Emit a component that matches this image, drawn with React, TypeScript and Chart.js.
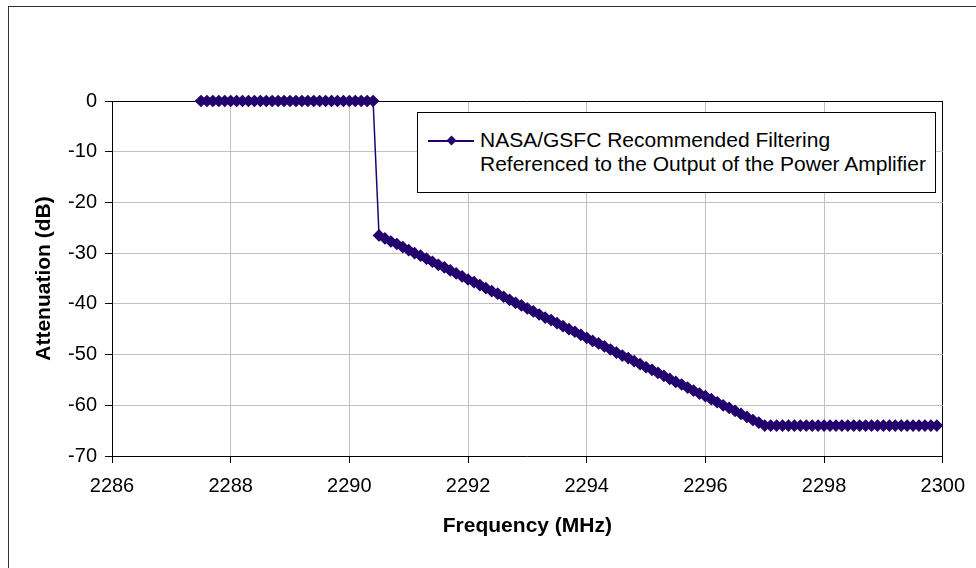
import React, { useEffect, useRef } from "react";
import { Chart, registerables } from "chart.js";

Chart.register(...registerables);

const frequencyMHz = [
  2287.5, 2287.6, 2287.7, 2287.8, 2287.9,
  2288.0, 2288.1, 2288.2, 2288.3, 2288.4, 2288.5, 2288.6, 2288.7, 2288.8, 2288.9,
  2289.0, 2289.1, 2289.2, 2289.3, 2289.4, 2289.5, 2289.6, 2289.7, 2289.8, 2289.9,
  2290.0, 2290.1, 2290.2, 2290.3, 2290.4,
  2290.5, 2290.6, 2290.7, 2290.8, 2290.9,
  2291.0, 2291.1, 2291.2, 2291.3, 2291.4, 2291.5, 2291.6, 2291.7, 2291.8, 2291.9,
  2292.0, 2292.1, 2292.2, 2292.3, 2292.4, 2292.5, 2292.6, 2292.7, 2292.8, 2292.9,
  2293.0, 2293.1, 2293.2, 2293.3, 2293.4, 2293.5, 2293.6, 2293.7, 2293.8, 2293.9,
  2294.0, 2294.1, 2294.2, 2294.3, 2294.4, 2294.5, 2294.6, 2294.7, 2294.8, 2294.9,
  2295.0, 2295.1, 2295.2, 2295.3, 2295.4, 2295.5, 2295.6, 2295.7, 2295.8, 2295.9,
  2296.0, 2296.1, 2296.2, 2296.3, 2296.4, 2296.5, 2296.6, 2296.7, 2296.8, 2296.9,
  2297.0, 2297.1, 2297.2, 2297.3, 2297.4, 2297.5, 2297.6, 2297.7, 2297.8, 2297.9,
  2298.0, 2298.1, 2298.2, 2298.3, 2298.4, 2298.5, 2298.6, 2298.7, 2298.8, 2298.9,
  2299.0, 2299.1, 2299.2, 2299.3, 2299.4, 2299.5, 2299.6, 2299.7, 2299.8, 2299.9,
];

const attenuationDb = [
  0, 0, 0, 0, 0,
  0, 0, 0, 0, 0, 0, 0, 0, 0, 0,
  0, 0, 0, 0, 0, 0, 0, 0, 0, 0,
  0, 0, 0, 0, 0,
  -26.5, -27.1, -27.7, -28.2, -28.8,
  -29.4, -30.0, -30.5, -31.1, -31.7, -32.3, -32.8, -33.4, -34.0, -34.6,
  -35.2, -35.7, -36.3, -36.9, -37.5, -38.0, -38.6, -39.2, -39.8, -40.3,
  -40.9, -41.5, -42.1, -42.7, -43.2, -43.8, -44.4, -45.0, -45.5, -46.1,
  -46.7, -47.3, -47.8, -48.4, -49.0, -49.6, -50.2, -50.7, -51.3, -51.9,
  -52.5, -53.0, -53.6, -54.2, -54.8, -55.4, -55.9, -56.5, -57.1, -57.7,
  -58.2, -58.8, -59.4, -60.0, -60.5, -61.1, -61.7, -62.3, -62.9, -63.4,
  -64.0, -64, -64, -64, -64, -64, -64, -64, -64, -64,
  -64, -64, -64, -64, -64, -64, -64, -64, -64, -64,
  -64, -64, -64, -64, -64, -64, -64, -64, -64, -64,
];

const xTickValues = [2286, 2288, 2290, 2292, 2294, 2296, 2298, 2300];
const yTickValues = [0, -10, -20, -30, -40, -50, -60, -70];
const seriesLabelLines = [
  "NASA/GSFC Recommended Filtering",
  "Referenced to the Output of the Power Amplifier",
];
const xAxisTitle = "Frequency (MHz)";
const yAxisTitle = "Attenuation (dB)";

const SERIES_COLOR = "#22006e";
const GRID_COLOR = "#c0c0c0";
const FONT = "'Liberation Sans', Arial, sans-serif";

export default function App() {
  const canvasRef = useRef<HTMLCanvasElement | null>(null);

  useEffect(() => {
    if (!canvasRef.current) return;
    const points = frequencyMHz.map((f, i) => ({ x: f, y: attenuationDb[i] }));
    const xMin = xTickValues[0];
    const xMax = xTickValues[xTickValues.length - 1];
    const yMin = yTickValues[yTickValues.length - 1];
    const yMax = yTickValues[0];

    const chart = new Chart(canvasRef.current, {
      type: "line",
      data: {
        datasets: [
          {
            label: seriesLabelLines.join(" "),
            data: points,
            clip: false,
            borderColor: SERIES_COLOR,
            backgroundColor: SERIES_COLOR,
            borderWidth: 1.5,
            tension: 0,
            pointStyle: "rectRot",
            pointRadius: 5.5,
            pointBorderWidth: 1.2,
            pointBackgroundColor: SERIES_COLOR,
            pointBorderColor: SERIES_COLOR,
          },
        ],
      },
      options: {
        animation: false,
        responsive: false,
        devicePixelRatio: 1,
        layout: { padding: { left: 0, top: 101, right: 30, bottom: 0 } },
        plugins: {
          legend: { display: false },
          tooltip: { enabled: false },
        },
        scales: {
          x: {
            type: "linear",
            min: xMin,
            max: xMax,
            afterBuildTicks: (s: any) => {
              s.ticks = xTickValues.map((v) => ({ value: v }));
            },
            afterFit: (s: any) => {
              s.height = 112;
            },
            grid: {
              color: (c: any) => (c.tick && c.tick.value === xMax ? "#000" : GRID_COLOR),
              lineWidth: 1,
              tickLength: 7,
              tickColor: "#000",
            },
            border: { color: "#000", width: 1 },
            ticks: {
              color: "#000",
              font: { family: FONT, size: 20 },
              padding: 11,
              maxRotation: 0,
              autoSkip: false,
              callback: (v: any) => String(v),
            },
            title: {
              display: true,
              text: xAxisTitle,
              color: "#000",
              font: { family: FONT, size: 21, weight: "bold" },
              padding: { top: 0, bottom: 29 },
            },
          },
          y: {
            type: "linear",
            min: yMin,
            max: yMax,
            afterBuildTicks: (s: any) => {
              s.ticks = yTickValues.map((v) => ({ value: v }));
            },
            afterFit: (s: any) => {
              s.width = 112;
            },
            grid: {
              color: (c: any) => (c.tick && c.tick.value === yMax ? "#000" : GRID_COLOR),
              lineWidth: 1,
              tickLength: 7,
              tickColor: "#000",
            },
            border: { color: "#000", width: 1 },
            ticks: {
              color: "#000",
              font: { family: FONT, size: 20 },
              padding: 8,
              autoSkip: false,
              callback: (v: any) => String(v),
            },
            title: {
              display: true,
              text: yAxisTitle,
              color: "#000",
              font: { family: FONT, size: 21, weight: "bold" },
              padding: { top: 32, bottom: 0 },
            },
          },
        },
      },
    } as any);

    return () => chart.destroy();
  }, []);

  return (
    <div style={{ position: "absolute", left: 0, top: 0, width: 976, height: 568, overflow: "hidden", background: "#fff" }}>
      <canvas
        ref={canvasRef}
        width={976}
        height={568}
        style={{ position: "absolute", left: 0, top: 0, width: 976, height: 568 }}
      />
      <div
        style={{
          position: "absolute",
          left: 8,
          top: 6,
          width: 968,
          height: 562,
          borderLeft: "1px solid #333",
          borderTop: "1px solid #333",
          pointerEvents: "none",
        }}
      />
      <div
        style={{
          position: "absolute",
          left: 417,
          top: 112,
          width: 519,
          height: 81,
          boxSizing: "border-box",
          border: "1px solid #000",
          background: "#fff",
          fontFamily: FONT,
          fontSize: 21,
          color: "#000",
        }}
      >
        <div style={{ position: "absolute", left: 10, top: 27, width: 46, height: 1.5, background: SERIES_COLOR }} />
        <div
          style={{
            position: "absolute",
            left: 30,
            top: 24,
            width: 7,
            height: 7,
            background: SERIES_COLOR,
            transform: "rotate(45deg)",
          }}
        />
        <div style={{ position: "absolute", left: 62, top: 15, lineHeight: "24px", whiteSpace: "nowrap" }}>
          {seriesLabelLines.map((t, i) => (
            <div key={i}>{t}</div>
          ))}
        </div>
      </div>
    </div>
  );
}
